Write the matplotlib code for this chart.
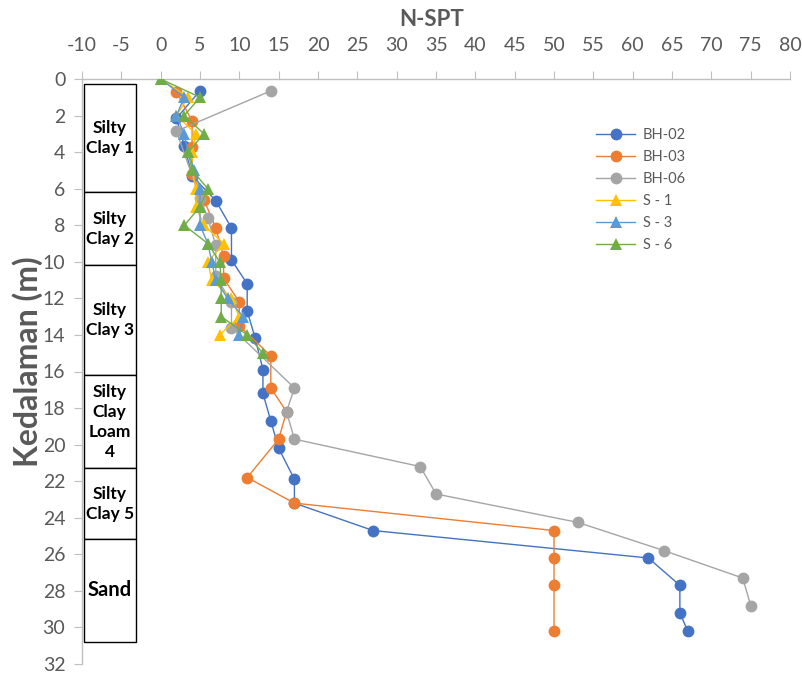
import matplotlib
matplotlib.use("Agg")
import matplotlib.pyplot as plt
from matplotlib.patches import Rectangle

# ---------------- data ----------------
bh02_depth = [0.65, 2.15, 3.65, 5.3, 6.65, 8.15, 9.9, 11.2, 12.7, 14.15, 15.9, 17.2, 18.7, 20.2, 21.9, 23.2, 24.7, 26.2, 27.7, 29.2, 30.2]
bh02_n     = [5, 2, 3, 4, 7, 9, 9, 11, 11, 12, 13, 13, 14, 15, 17, 17, 27, 62, 66, 66, 67]

bh03_depth = [0.7, 2.3, 3.7, 5.2, 6.6, 8.15, 9.7, 10.9, 12.2, 13.5, 15.15, 16.9, 18.2, 19.7, 21.8, 23.2, 24.7, 26.2, 27.7, 30.2]
bh03_n     = [2, 4, 4, 4, 5.5, 7, 8, 8, 10, 10, 14, 14, 16, 15, 11, 17, 50, 50, 50, 50]

bh06_depth = [0.65, 2.85, 6.5, 7.6, 9.1, 10.8, 12.2, 13.6, 16.9, 18.2, 19.7, 21.2, 22.7, 24.25, 25.8, 27.3, 28.8]
bh06_n     = [14, 2, 5, 6, 7, 7, 9, 9, 17, 16, 17, 33, 35, 53, 64, 74, 75]

s1_depth = [0, 1, 2, 3, 4, 5, 6, 7, 8, 9, 10, 11, 12, 13, 14]
s1_n     = [0, 3.5, 2, 4.5, 4, 4, 4.5, 4.5, 5.5, 8, 6, 6.5, 9, 10, 7.5]

s3_depth = [0, 1, 2, 3, 4, 5, 6, 7, 8, 9, 10, 11, 12, 13, 14]
s3_n     = [0, 3, 2, 3, 3.5, 4.3, 5, 5, 5, 6, 6.5, 7, 8.5, 10.5, 10]

s6_depth = [0, 1, 2, 3, 4, 5, 6, 7, 8, 9, 10, 11, 12, 13, 14, 15]
s6_n     = [0, 5, 3, 5.5, 3.5, 4, 6, 5, 3, 6, 7.5, 7.7, 7.7, 7.7, 11, 13]

layer_names  = ["Silty\nClay 1", "Silty\nClay 2", "Silty\nClay 3", "Silty\nClay\nLoam\n4", "Silty\nClay 5", "Sand"]
layer_top    = [0.3, 6.2, 10.2, 16.2, 21.3, 25.15]
layer_bottom = [6.2, 10.2, 16.2, 21.3, 25.15, 30.8]

x_ticks = list(range(-10, 81, 5))
y_ticks = list(range(0, 33, 2))

# ---------------- figure ----------------
plt.rcParams['font.family'] = ['Lato', 'DejaVu Sans']
plt.rcParams['axes.unicode_minus'] = False
GRAY_TXT = '#595959'
AX_GRAY = '#bfbfbf'

fig = plt.figure(figsize=(8.02, 6.78), dpi=100)
ax = fig.add_axes([82/802, 1 - 664/678, (790 - 82)/802, (664 - 79)/678])

series = [
    ("BH-02", bh02_n, bh02_depth, '#4472C4', 'o'),
    ("BH-03", bh03_n, bh03_depth, '#ED7D31', 'o'),
    ("BH-06", bh06_n, bh06_depth, '#A5A5A5', 'o'),
    ("S - 1", s1_n, s1_depth, '#FFC000', '^'),
    ("S - 3", s3_n, s3_depth, '#5B9BD5', '^'),
    ("S - 6", s6_n, s6_depth, '#70AD47', '^'),
]
for i, (lab, xs, ys, col, mk) in enumerate(series):
    ax.plot(xs, ys, color=col, lw=1.0, marker=mk, markersize=9 if mk == '^' else 8.5,
            markeredgewidth=0, label=lab, zorder=3 + i)

# soil column
for name, t, b in zip(layer_names, layer_top, layer_bottom):
    ax.add_patch(Rectangle((-9.8, t), 6.65, b - t, facecolor='white',
                           edgecolor='black', lw=1.0, zorder=2))
    fs = 14.5 if name == "Sand" else 12.5
    ax.text(-9.8 + 6.65/2, (t + b)/2, name, ha='center', va='center',
            fontsize=fs, fontweight='bold', color='black', linespacing=1.3, zorder=10)

ax.set_xlim(-10, 80)
ax.set_ylim(32, 0)
ax.set_xticks(x_ticks)
ax.set_yticks(y_ticks)
ax.xaxis.tick_top()
for s in ['right', 'bottom']:
    ax.spines[s].set_visible(False)
for s in ['top', 'left']:
    ax.spines[s].set_color(AX_GRAY)
    ax.spines[s].set_linewidth(1.0)
ax.tick_params(axis='x', direction='out', length=6, color=AX_GRAY, labelsize=14,
               labelcolor=GRAY_TXT, pad=12)
ax.tick_params(axis='y', direction='out', length=6, color=AX_GRAY, labelsize=14,
               labelcolor=GRAY_TXT, pad=6)

fig.text(432/802, 1 - 20/678, "N-SPT", ha='center', va='center', fontsize=16,
         fontweight='bold', color=GRAY_TXT)
fig.text(28/802, 1 - 362/678, "Kedalaman (m)", ha='center', va='center', rotation=90,
         fontsize=23, fontweight='bold', color=GRAY_TXT)

leg = ax.legend(loc='upper left', bbox_to_anchor=(596/802, 1 - 128/678),
                bbox_transform=fig.transFigure, frameon=False, fontsize=10.5,
                borderpad=0, borderaxespad=0, handlelength=2.7, handletextpad=0.5,
                labelspacing=0.55)
for t in leg.get_texts():
    t.set_color(GRAY_TXT)

fig.savefig("out.png", dpi=100)
